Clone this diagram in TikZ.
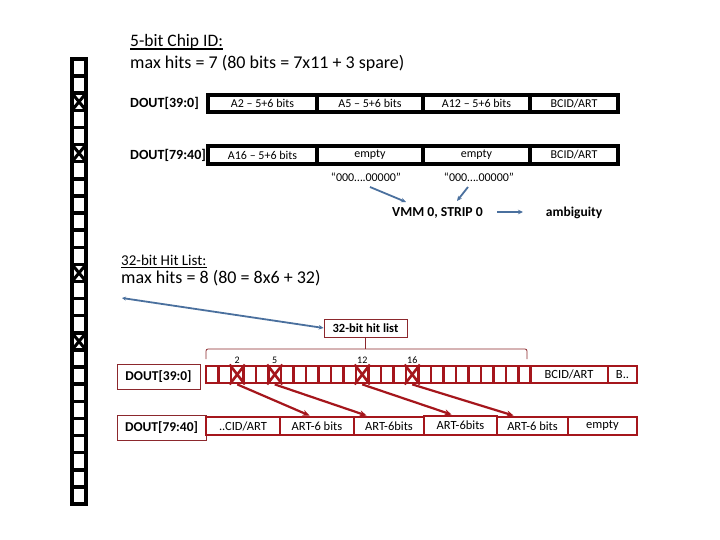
\documentclass[tikz,border=0pt]{standalone}
\usepackage{fontspec}
\setmainfont{Carlito}
\usetikzlibrary{arrows.meta}
\definecolor{hred}{RGB}{165,22,28}
\definecolor{tred}{RGB}{140,40,45}
\definecolor{ablue}{RGB}{74,112,158}
\begin{document}
\begin{tikzpicture}[x=1pt,y=-1pt,
  topcell/.style={draw=black,line width=3.2pt,inner sep=0pt,font=\fontsize{12}{14}\selectfont},
  thinbox/.style={draw=tred,line width=0.8pt,inner sep=0pt},
  smallcell/.style={draw=hred,line width=2.8pt,minimum width=12.5pt,minimum height=17pt,inner sep=0pt},
  redcell/.style={draw=hred,line width=2.8pt,minimum height=18pt,inner sep=0pt,font=\fontsize{12.5}{14}\selectfont},
  barrow/.style={draw=ablue,line width=1.8pt,-{Stealth[length=5pt,width=4.5pt]}},
  rarrow/.style={draw=hred,line width=2.2pt,-{Stealth[length=7pt,width=6pt]}},
  head/.style={anchor=base west,inner sep=0pt,font=\fontsize{18}{20}\selectfont},
  uline/.style={line width=1.1pt},
  lbl/.style={anchor=base west,inner sep=0pt,font=\bfseries\fontsize{14}{16}\selectfont}]
\useasboundingbox[fill=white] (0,0) rectangle (720,540);

% left column of channels
\foreach \i in {0,...,25}{
  \draw[line width=3.5pt] (72,{59+\i*17.115}) rectangle (86,{59+(\i+1)*17.115});
}
\foreach \i in {2,5,12,16}{
  \draw[line width=3pt] (72,{59+\i*17.115}) -- (86,{59+(\i+1)*17.115});
  \draw[line width=3pt] (86,{59+\i*17.115}) -- (72,{59+(\i+1)*17.115});
}

% headings
\node[head,font=\fontsize{17.5}{20}\selectfont] (h1) at (130,47) {5-bit Chip ID:};
\draw[uline] ([yshift=-2pt]h1.base west) -- ([yshift=-2pt]h1.base east);
\node[head] (h2) at (130,68.5) {max hits = 7 (80 bits = 7x11 + 3 spare)};
\node[lbl] (l1) at (130,108) {DOUT[39:0]};
\node[lbl] (l2) at (130,160) {DOUT[79:40]};

% top rows
\node[topcell,minimum width=109pt,minimum height=17pt] (a1) at (262.5,103.5) {A2 -- 5+6 bits};
\node[topcell,minimum width=106pt,minimum height=17pt] (a2) at (370,103.5) {A5 -- 5+6 bits};
\node[topcell,minimum width=107pt,minimum height=17pt] (a3) at (476.5,103.5) {A12 -- 5+6 bits};
\node[topcell,minimum width=88pt,minimum height=17pt] (a4) at (574,103.5) {BCID/ART};
\node[topcell,minimum width=109pt,minimum height=18pt] (b1) at (262.5,155) {A16 -- 5+6 bits};
\node[topcell,minimum width=106pt,minimum height=18pt] (b2) at (370,155) {empty};
\node[topcell,minimum width=107pt,minimum height=18pt] (b3) at (476.5,155) {empty};
\node[topcell,minimum width=88pt,minimum height=18pt] (b4) at (574,155) {BCID/ART};

\node[font=\fontsize{12}{14}\selectfont] (q1) at (366,177) {“000….00000”};
\node[font=\fontsize{12}{14}\selectfont] (q2) at (479,177) {“000….00000”};
\node[font=\bfseries\fontsize{13.7}{16}\selectfont] (vmm) at (437.5,213) {VMM 0, STRIP 0};
\node[font=\bfseries\fontsize{13.5}{16}\selectfont] (amb) at (574,213) {ambiguity};

\coordinate (q1s) at (370,187);
\coordinate (q1e) at (406,202);
\coordinate (q2s) at (468,187);
\coordinate (q2e) at (457,201);
\coordinate (ve) at (497,212);
\coordinate (ae) at (523,212);
\draw[barrow] (q1s) -- (q1e);
\draw[barrow] (q2s) -- (q2e);
\draw[barrow] (ve) -- (ae);

% hit list headings
\node[head,font=\fontsize{15}{18}\selectfont] (h3) at (121,265.5) {32-bit Hit List:};
\draw[uline] ([yshift=-2pt]h3.base west) -- ([yshift=-2pt]h3.base east);
\node[head] (h4) at (121,283) {max hits = 8 (80 = 8x6 + 32)};

\node[thinbox,minimum width=83pt,minimum height=18pt,font=\bfseries\fontsize{12.5}{14}\selectfont] (hl) at (365.5,328) {32-bit hit list};
\coordinate (ls) at (122,298);
\draw[draw=ablue,line width=1.8pt,{Stealth[length=4pt,width=4pt]}-{Stealth[length=5pt,width=4.5pt]}] (ls) -- (hl.west);

% bracket
\draw[tred,line width=0.8pt,rounded corners=2pt] (206,359) -- (206,349) -- (527,349) -- (527,359);
\draw[tred,line width=0.8pt] (hl.south) -- (hl.south |- 0,349);

% DOUT labels bottom
\node[thinbox,minimum width=83pt,minimum height=25pt,font=\bfseries\fontsize{13.5}{15}\selectfont] (dl1) at (158.5,376.5) {DOUT[39:0]};
\node[thinbox,minimum width=89pt,minimum height=25pt,font=\bfseries\fontsize{13.5}{15}\selectfont] (dl2) at (161.5,427.5) {DOUT[79:40]};

% row 1 small cells
\foreach \i in {0,...,25}{
  \node[smallcell] (c\i) at ({212.25+\i*12.5},374.5) {};
}
\foreach \i in {2,5,12,16}{
  \draw[hred,line width=2.6pt] (c\i.north west) -- (c\i.south east);
  \draw[hred,line width=2.6pt] (c\i.north east) -- (c\i.south west);
  \node[anchor=south,font=\fontsize{10}{11}\selectfont,inner sep=1pt] (n\i) at (c\i.north) {\i};
}
\node[redcell,minimum width=78pt,minimum height=17pt] (e1) at (569,374.5) {BCID/ART};
\node[redcell,minimum width=29pt,minimum height=17pt] (e2) at (622.5,374.5) {B..};

% row 2
\node[redcell,minimum width=74pt] (d1) at (243,426) {..CID/ART};
\node[redcell,minimum width=74pt] (d2) at (317,426) {ART-6 bits};
\node[redcell,minimum width=70pt] (d3) at (389,426) {ART-6bits};
\node[redcell,minimum width=73pt,minimum height=19pt] (d4) at (460.5,425.5) {ART-6bits};
\node[redcell,minimum width=71pt] (d5) at (532.5,426) {ART-6 bits};
\node[redcell,minimum width=69pt] (d6) at (602.5,426) {empty};

% arrows row1 -> row2
\draw[rarrow] (c2.south) -- ([xshift=31pt]d2.north west);
\draw[rarrow] (c5.south) -- ([xshift=14pt]d3.north west);
\draw[rarrow] (c12.south) -- ([xshift=29pt]d4.north west);
\draw[rarrow] (c16.south) -- ([xshift=18pt]d5.north west);
\end{tikzpicture}
\end{document}
